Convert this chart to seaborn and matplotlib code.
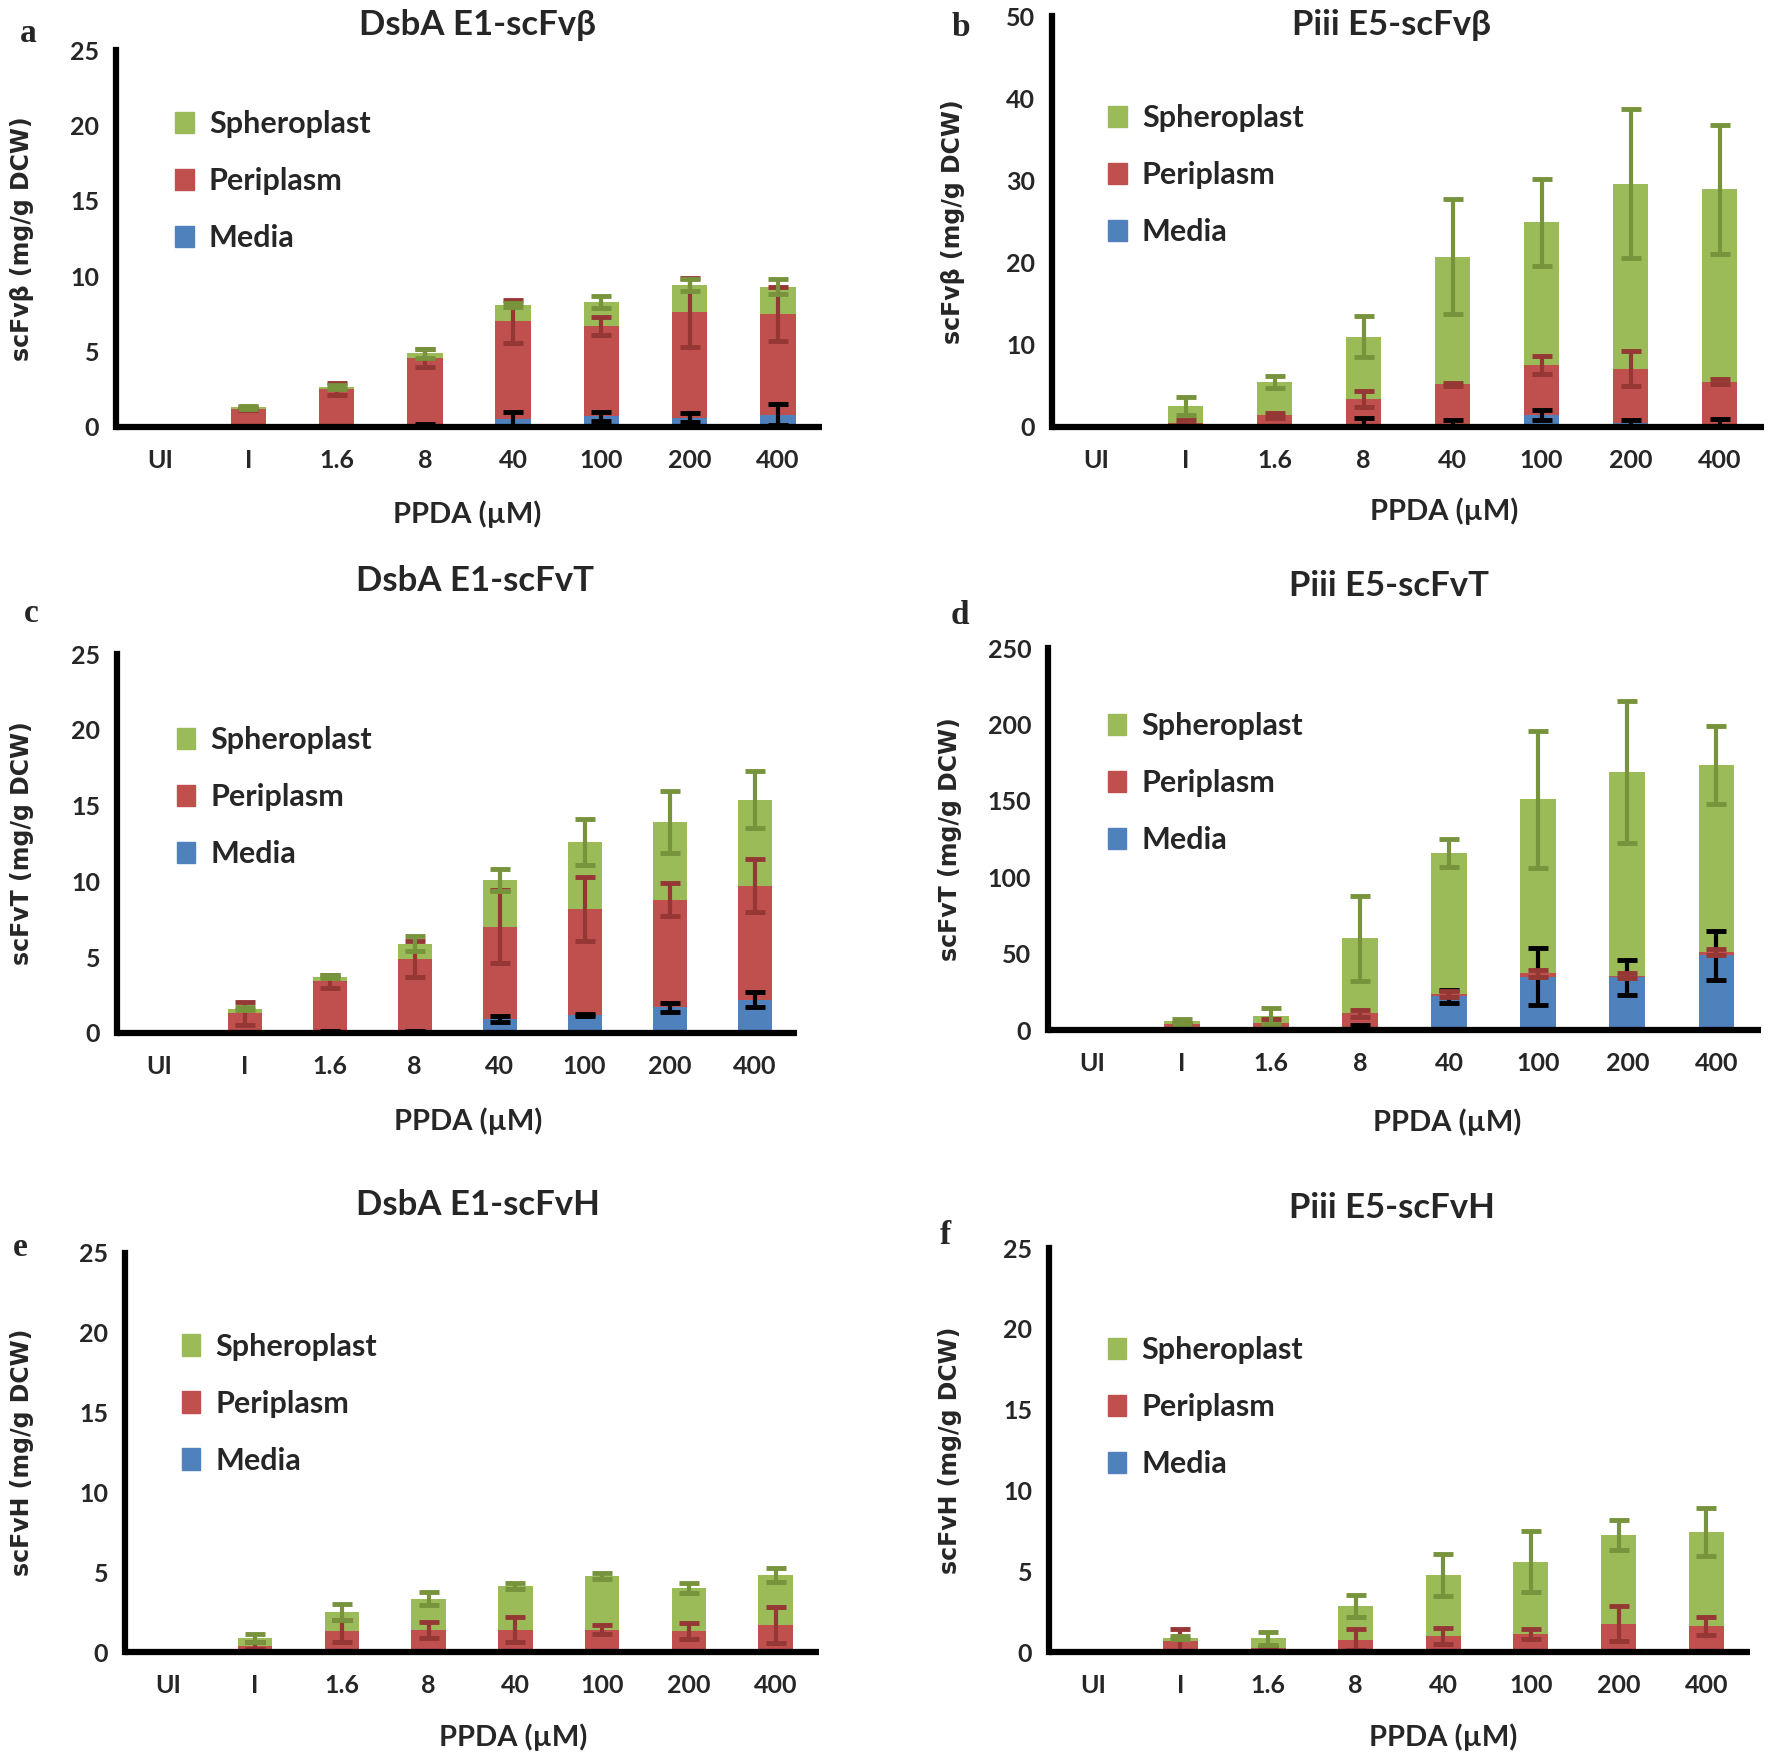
import numpy as np
import matplotlib
matplotlib.use("Agg")
import matplotlib.pyplot as plt
import seaborn as sns
from matplotlib.patches import Patch


# =====================
# Data
# =====================

categories = ["UI", "I", "1.6", "8", "40", "100", "200", "400"]

# panel a  DsbA E1-scFvβ
a_media = [0, 0, 0, 0.1, 0.5, 0.7, 0.6, 0.8]
a_peri = [0, 1.2, 2.5, 4.5, 6.5, 6.0, 7.0, 6.7]
a_sph = [0, 0.1, 0.15, 0.3, 1.1, 1.6, 1.8, 1.8]
a_media_err = [0, 0, 0, 0.1, 0.5, 0.3, 0.3, 0.7]
a_peri_err = [0, 0.1, 0.4, 0.6, 1.4, 0.6, 2.3, 1.8]
a_sph_err = [0, 0.1, 0.15, 0.3, 0.15, 0.4, 0.4, 0.5]

# panel b  Piii E5-scFvβ
b_media = [0, 0, 0, 0.3, 0.4, 1.5, 0.5, 0.4]
b_peri = [0, 0.5, 1.4, 3.1, 4.8, 6.0, 6.6, 5.1]
b_sph = [0, 2.1, 4.1, 7.6, 15.5, 17.4, 22.5, 23.4]
b_media_err = [0, 0, 0, 0.8, 0.4, 0.6, 0.4, 0.6]
b_peri_err = [0, 0.3, 0.3, 1.0, 0.2, 1.1, 2.1, 0.3]
b_sph_err = [0, 1.1, 0.7, 2.5, 7.0, 5.3, 9.1, 7.9]

# panel c  DsbA E1-scFvT
c_media = [0, 0, 0.1, 0.1, 0.9, 1.2, 1.7, 2.2]
c_peri = [0, 1.3, 3.3, 4.8, 6.1, 7.0, 7.1, 7.5]
c_sph = [0, 0.3, 0.3, 1.0, 3.1, 4.4, 5.1, 5.7]
c_media_err = [0, 0, 0.05, 0.05, 0.2, 0.05, 0.3, 0.5]
c_peri_err = [0, 0.75, 0.45, 1.2, 2.4, 2.1, 1.1, 1.75]
c_sph_err = [0, 0.1, 0.1, 0.5, 0.75, 1.5, 2.05, 1.85]

# panel d  Piii E5-scFvT
d_media = [0, 0, 0, 1, 22, 35, 34.5, 49]
d_peri = [0, 3.6, 4.4, 9.9, 1.7, 2, 1.0, 2]
d_sph = [0, 2.0, 4.8, 49.1, 92, 114, 133.3, 122.6]
d_media_err = [0, 0, 0, 2, 4.5, 18.5, 11.3, 16]
d_peri_err = [0, 1, 3, 2.5, 2, 2, 1.5, 2]
d_sph_err = [0, 1.5, 5.5, 28, 9, 45, 46.6, 25.5]

# panel e  DsbA E1-scFvH
e_media = [0, 0, 0, 0, 0, 0, 0, 0]
e_peri = [0, 0.4, 1.3, 1.4, 1.4, 1.4, 1.3, 1.7]
e_sph = [0, 0.45, 1.2, 1.95, 2.73, 3.37, 2.7, 3.14]
e_media_err = [0, 0, 0, 0, 0, 0, 0, 0]
e_peri_err = [0, 0.2, 0.7, 0.5, 0.8, 0.3, 0.5, 1.15]
e_sph_err = [0, 0.25, 0.5, 0.4, 0.2, 0.17, 0.3, 0.45]

# panel f  Piii E5-scFvH
f_media = [0, 0, 0, 0, 0, 0, 0, 0]
f_peri = [0, 0.65, 0.23, 0.77, 1.0, 1.11, 1.76, 1.62]
f_sph = [0, 0.23, 0.61, 2.08, 3.76, 4.49, 5.5, 5.8]
f_media_err = [0, 0, 0, 0, 0, 0, 0, 0]
f_peri_err = [0, 0.8, 0.1, 0.65, 0.5, 0.33, 1.07, 0.57]
f_sph_err = [0, 0.1, 0.4, 0.7, 1.3, 1.9, 0.93, 1.47]


# =====================
# Style
# =====================

sns.set_style("white")
plt.rcParams["font.family"] = ["Lato", "DejaVu Sans"]
plt.rcParams["font.weight"] = "bold"

green = "#9BBB59"
red = "#C0504D"
blue = "#4F81BD"
green_err = "#77933C"
red_err = "#953735"

W, H = 1773, 1757
fig = plt.figure(figsize=(W / 100, H / 100), dpi=100)


def box(l, t, r, b):
    return [l / W, 1 - b / H, (r - l) / W, (b - t) / H]


panels = [
    dict(letter="a", title="DsbA E1-scFvβ", ylabel="scFvβ (mg/g DCW)",
         media=a_media, peri=a_peri, sph=a_sph,
         merr=a_media_err, perr=a_peri_err, serr=a_sph_err,
         ymax=25, step=5, ax=(116, 50, 822, 427),
         leg=(0.084, 0.84), title_xy=(478, 25), letter_xy=(28, 34),
         xl_xy=(467, 514), yl_x=22),
    dict(letter="b", title="Piii E5-scFvβ", ylabel="scFvβ (mg/g DCW)",
         media=b_media, peri=b_peri, sph=b_sph,
         merr=b_media_err, perr=b_peri_err, serr=b_sph_err,
         ymax=50, step=10, ax=(1052, 16, 1764, 427),
         leg=(0.079, 0.785), title_xy=(1391, 25), letter_xy=(961, 27),
         xl_xy=(1444, 511), yl_x=953),
    dict(letter="c", title="DsbA E1-scFvT", ylabel="scFvT (mg/g DCW)",
         media=c_media, peri=c_peri, sph=c_sph,
         merr=c_media_err, perr=c_peri_err, serr=c_sph_err,
         ymax=25, step=5, ax=(117, 654, 797, 1033),
         leg=(0.088, 0.81), title_xy=(475, 581), letter_xy=(31, 613),
         xl_xy=(468, 1121), yl_x=22),
    dict(letter="d", title="Piii E5-scFvT", ylabel="scFvT (mg/g DCW)",
         media=d_media, peri=d_peri, sph=d_sph,
         merr=d_media_err, perr=d_peri_err, serr=d_sph_err,
         ymax=250, step=50, ax=(1048, 648, 1761, 1030),
         leg=(0.084, 0.832), title_xy=(1389, 586), letter_xy=(960, 616),
         xl_xy=(1447, 1122), yl_x=950),
    dict(letter="e", title="DsbA E1-scFvH", ylabel="scFvH (mg/g DCW)",
         media=e_media, peri=e_peri, sph=e_sph,
         merr=e_media_err, perr=e_peri_err, serr=e_sph_err,
         ymax=25, step=5, ax=(125, 1253, 819, 1652),
         leg=(0.082, 0.80), title_xy=(478, 1205), letter_xy=(20, 1247),
         xl_xy=(513, 1737), yl_x=22),
    dict(letter="f", title="Piii E5-scFvH", ylabel="scFvH (mg/g DCW)",
         media=f_media, peri=f_peri, sph=f_sph,
         merr=f_media_err, perr=f_peri_err, serr=f_sph_err,
         ymax=25, step=5, ax=(1049, 1248, 1750, 1652),
         leg=(0.084, 0.782), title_xy=(1392, 1208), letter_xy=(945, 1236),
         xl_xy=(1443, 1737), yl_x=950),
]


# =====================
# Draw
# =====================

idx = np.arange(len(categories))

for p in panels:
    ax = fig.add_axes(box(*p["ax"]))

    media = np.array(p["media"], dtype=float)
    peri_top = media + np.array(p["peri"], dtype=float)
    sph_top = peri_top + np.array(p["sph"], dtype=float)

    # stacked bars: tallest layer first
    for top, col in [(sph_top, green), (peri_top, red), (media, blue)]:
        sns.barplot(x=categories, y=top, order=categories, color=col,
                    saturation=1, width=0.4, ax=ax, zorder=2,
                    linewidth=0, edgecolor="none")

    # error bars at top of each segment
    for top, err, col in [(media, p["merr"], "black"),
                          (peri_top, p["perr"], red_err),
                          (sph_top, p["serr"], green_err)]:
        err = np.array(err, dtype=float)
        m = (top > 0) & (err > 0)
        ax.errorbar(idx[m], top[m], yerr=err[m], fmt="none", ecolor=col,
                    elinewidth=3, capsize=7, capthick=3.5, zorder=5)

    ax.set_xlim(-0.5, 7.5)
    ax.set_ylim(0, p["ymax"])
    ax.set_yticks(np.arange(0, p["ymax"] + 1, p["step"]))
    ax.set_xticks(idx)
    ax.set_xticks(np.arange(-0.5, 8, 1), minor=True)
    ax.set_xticklabels(categories, fontsize=18, fontweight="bold")
    for lab in ax.get_yticklabels():
        lab.set_fontsize(18)
        lab.set_fontweight("bold")
    ax.tick_params(axis="x", which="major", length=0, pad=16)
    ax.tick_params(axis="x", which="minor", length=11, width=4,
                   direction="out", color="black")
    ax.tick_params(axis="y", length=8, width=4, direction="out",
                   color="black", pad=4)
    ax.set_xlabel("")
    ax.set_ylabel("")

    sns.despine(ax=ax)
    for s in ["left", "bottom"]:
        ax.spines[s].set_linewidth(4.5)
        ax.spines[s].set_color("black")
        ax.spines[s].set_zorder(6)
    ax.spines["bottom"].set_capstyle("butt")

    handles = [Patch(color=green), Patch(color=red), Patch(color=blue)]
    ax.legend(handles, ["Spheroplast", "Periplasm", "Media"],
              loc="upper left", bbox_to_anchor=p["leg"], frameon=False,
              fontsize=22, handlelength=0.6, handleheight=0.7,
              handletextpad=0.5, labelspacing=0.95, borderpad=0,
              borderaxespad=0)

    tx, ty = p["title_xy"]
    fig.text(tx / W, 1 - ty / H, p["title"], ha="center", va="center",
             fontsize=25, fontweight="bold")
    lx, ly = p["letter_xy"]
    fig.text(lx / W, 1 - ly / H, p["letter"], ha="center", va="center",
             fontsize=24, fontweight="bold", family="Liberation Serif")
    xx, xy = p["xl_xy"]
    fig.text(xx / W, 1 - xy / H, "PPDA (µM)", ha="center", va="center",
             fontsize=21, fontweight="bold")
    axl = p["ax"]
    fig.text(p["yl_x"] / W, 1 - (axl[1] + axl[3]) / 2 / H, p["ylabel"],
             ha="center", va="center", rotation=90, fontsize=17,
             fontweight="bold", family=["DejaVu Sans"])


plt.savefig("out.png", dpi=100)
plt.close()
